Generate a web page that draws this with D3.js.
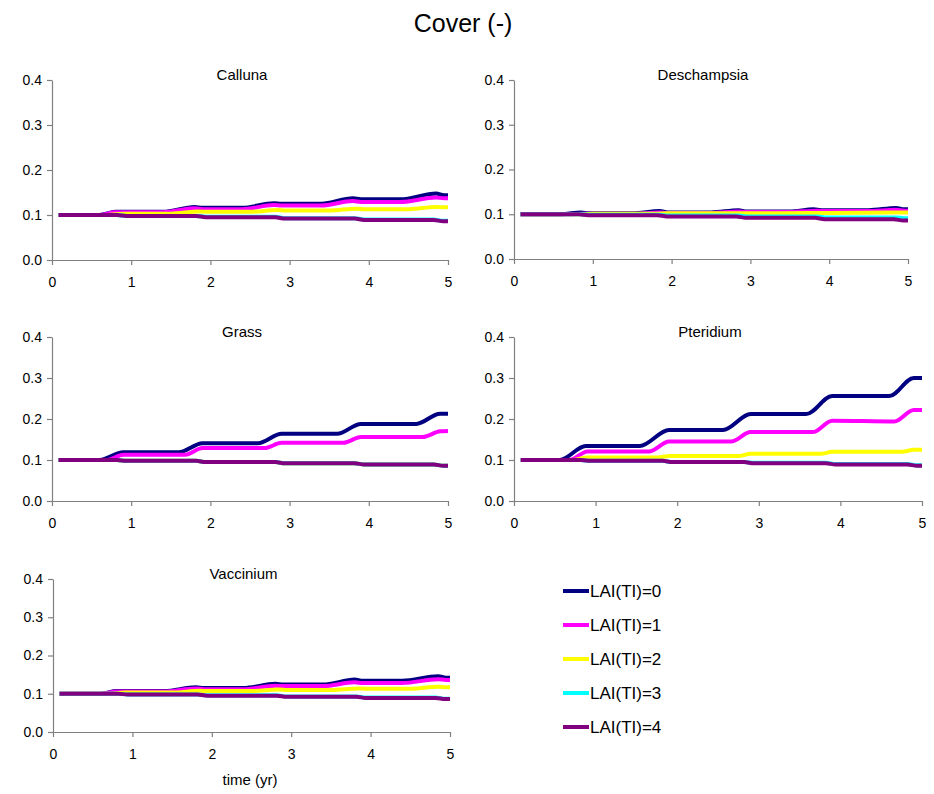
<!DOCTYPE html>
<html><head><meta charset="utf-8">
<script src="https://cdn.jsdelivr.net/npm/d3@7"></script>
<style>
body{margin:0;background:#fff}
text{font-family:"Liberation Sans",Arial,sans-serif;fill:#000}
</style>
</head><body>
<svg id="chart" width="934" height="794"></svg>
<script>
// ---- data ----
const seriesNames = ["LAI(TI)=0","LAI(TI)=1","LAI(TI)=2","LAI(TI)=3","LAI(TI)=4"];
const seriesColors = ["#000080","#FF00FF","#FFFF00","#00FFFF","#800080"];
const xTicks = [0,1,2,3,4,5];
const yTicks = [0.0,0.1,0.2,0.3,0.4];

const callunaL0 = [[0.083,0.1],[0.6,0.1],[0.8,0.107],[1.4,0.107],[1.8,0.118],[1.9,0.116],[2.4,0.116],[2.8,0.126],[2.9,0.125],[3.4,0.125],[3.8,0.137],[3.9,0.135],[4.4,0.135],[4.85,0.148],[4.95,0.144],[5,0.144]];
const callunaL1 = [[0.083,0.1],[0.6,0.1],[0.8,0.106],[1.4,0.106],[1.8,0.115],[1.9,0.113],[2.4,0.113],[2.8,0.122],[2.9,0.121],[3.4,0.121],[3.8,0.131],[3.9,0.129],[4.4,0.129],[4.85,0.139],[4.95,0.137],[5,0.137]];
const callunaL2 = [[0.083,0.1],[0.7,0.1],[0.9,0.103],[1.5,0.103],[1.85,0.108],[1.95,0.107],[2.5,0.107],[2.85,0.111],[2.95,0.110],[3.5,0.110],[3.85,0.114],[3.95,0.113],[4.5,0.113],[4.85,0.118],[4.95,0.117],[5,0.117]];
const callunaL3 = [[0.083,0.1],[0.82,0.1],[0.94,0.098],[1.82,0.098],[1.94,0.096],[2.82,0.096],[2.94,0.093],[3.82,0.093],[3.94,0.090],[4.82,0.090],[4.94,0.087],[5,0.087]];
const callunaL4 = [[0.083,0.1],[0.82,0.1],[0.94,0.098],[1.82,0.098],[1.94,0.095],[2.82,0.095],[2.94,0.092],[3.82,0.092],[3.94,0.089],[4.82,0.089],[4.94,0.086],[5,0.086]];

const deschampsiaL0 = [[0.083,0.1],[0.6,0.1],[0.85,0.104],[0.95,0.102],[1.5,0.102],[1.85,0.107],[1.95,0.104],[2.5,0.104],[2.85,0.109],[2.95,0.106],[3.5,0.106],[3.8,0.111],[3.9,0.109],[4.5,0.109],[4.85,0.114],[4.95,0.111],[5,0.111]];
const deschampsiaL1 = [[0.083,0.1],[0.7,0.1],[0.9,0.101],[1.5,0.101],[1.85,0.104],[1.95,0.103],[2.5,0.103],[2.85,0.106],[2.95,0.105],[3.5,0.105],[3.85,0.108],[3.95,0.107],[4.5,0.107],[4.85,0.110],[4.95,0.108],[5,0.108]];
const deschampsiaL2 = [[0.083,0.1],[0.9,0.1],[1.0,0.101],[1.8,0.101],[1.95,0.102],[2.8,0.102],[2.95,0.102],[3.8,0.103],[3.95,0.103],[4.8,0.104],[5,0.104]];
const deschampsiaL3 = [[0.083,0.1],[0.85,0.1],[0.95,0.099],[1.85,0.099],[1.95,0.097],[2.85,0.097],[2.95,0.095],[3.85,0.095],[3.95,0.093],[4.85,0.093],[4.95,0.091],[5,0.091]];
const deschampsiaL4 = [[0.083,0.1],[0.82,0.1],[0.94,0.098],[1.82,0.098],[1.94,0.095],[2.82,0.095],[2.94,0.092],[3.82,0.092],[3.94,0.089],[4.82,0.089],[4.94,0.086],[5,0.086]];

const grassL0 = [[0.083,0.1],[0.6,0.1],[0.9,0.119],[1.6,0.119],[1.9,0.141],[2.6,0.141],[2.9,0.164],[3.6,0.164],[3.9,0.188],[4.6,0.188],[4.9,0.213],[5,0.213]];
const grassL1 = [[0.083,0.1],[0.7,0.1],[0.9,0.113],[1.68,0.113],[1.9,0.129],[2.68,0.129],[2.9,0.142],[3.68,0.142],[3.9,0.156],[4.68,0.156],[4.9,0.170],[5,0.171]];
const grassL2 = [[0.083,0.1],[0.82,0.1],[0.94,0.098],[1.82,0.098],[1.94,0.095],[2.82,0.095],[2.94,0.092],[3.82,0.092],[3.94,0.089],[4.82,0.089],[4.94,0.086],[5,0.086]];
const grassL3 = [[0.083,0.1],[0.82,0.1],[0.94,0.098],[1.82,0.098],[1.94,0.095],[2.82,0.095],[2.94,0.092],[3.82,0.092],[3.94,0.089],[4.82,0.089],[4.94,0.086],[5,0.086]];
const grassL4 = [[0.083,0.1],[0.82,0.1],[0.94,0.098],[1.82,0.098],[1.94,0.095],[2.82,0.095],[2.94,0.092],[3.82,0.092],[3.94,0.089],[4.82,0.089],[4.94,0.086],[5,0.086]];

const pteridiumL0 = [[0.083,0.1],[0.56,0.1],[0.88,0.134],[1.54,0.134],[1.9,0.173],[2.56,0.173],[2.9,0.212],[3.58,0.212],[3.9,0.256],[4.6,0.256],[4.9,0.300],[5,0.300]];
const pteridiumL1 = [[0.083,0.1],[0.68,0.1],[0.9,0.121],[1.66,0.121],[1.9,0.145],[2.66,0.145],[2.9,0.168],[3.66,0.168],[3.9,0.196],[4.66,0.194],[4.9,0.222],[5,0.222]];
const pteridiumL2 = [[0.083,0.1],[0.72,0.1],[0.9,0.106],[1.76,0.106],[1.9,0.110],[2.76,0.110],[2.9,0.115],[3.76,0.115],[3.9,0.120],[4.76,0.120],[4.9,0.125],[5,0.125]];
const pteridiumL3 = [[0.083,0.1],[0.82,0.1],[0.94,0.098],[1.82,0.098],[1.94,0.095],[2.82,0.095],[2.94,0.093],[3.82,0.093],[3.94,0.090],[4.82,0.090],[4.94,0.087],[5,0.087]];
const pteridiumL4 = [[0.083,0.1],[0.82,0.1],[0.94,0.098],[1.82,0.098],[1.94,0.095],[2.82,0.095],[2.94,0.092],[3.82,0.092],[3.94,0.089],[4.82,0.089],[4.94,0.086],[5,0.086]];

const vacciniumL0 = [[0.083,0.1],[0.6,0.1],[0.8,0.107],[1.4,0.107],[1.8,0.117],[1.9,0.115],[2.4,0.115],[2.8,0.126],[2.9,0.124],[3.4,0.124],[3.8,0.137],[3.9,0.134],[4.4,0.134],[4.85,0.146],[4.95,0.142],[5,0.142]];
const vacciniumL1 = [[0.083,0.1],[0.6,0.1],[0.8,0.106],[1.4,0.106],[1.8,0.114],[1.9,0.112],[2.4,0.112],[2.8,0.121],[2.9,0.120],[3.4,0.120],[3.8,0.130],[3.9,0.128],[4.4,0.128],[4.85,0.138],[4.95,0.136],[5,0.136]];
const vacciniumL2 = [[0.083,0.1],[0.7,0.1],[0.9,0.103],[1.5,0.103],[1.85,0.108],[1.95,0.107],[2.5,0.107],[2.85,0.111],[2.95,0.110],[3.5,0.110],[3.85,0.114],[3.95,0.113],[4.5,0.113],[4.85,0.118],[4.95,0.117],[5,0.117]];
const vacciniumL3 = [[0.083,0.1],[0.82,0.1],[0.94,0.098],[1.82,0.098],[1.94,0.096],[2.82,0.096],[2.94,0.093],[3.82,0.093],[3.94,0.090],[4.82,0.090],[4.94,0.087],[5,0.087]];
const vacciniumL4 = [[0.083,0.1],[0.82,0.1],[0.94,0.098],[1.82,0.098],[1.94,0.095],[2.82,0.095],[2.94,0.092],[3.82,0.092],[3.94,0.089],[4.82,0.089],[4.94,0.086],[5,0.086]];

// ---- layout ----
const panels = [
  {title:"Calluna",     series:[callunaL0,callunaL1,callunaL2,callunaL3,callunaL4],               x0:52,  x1:448, y0:80,  y1:260},
  {title:"Deschampsia", series:[deschampsiaL0,deschampsiaL1,deschampsiaL2,deschampsiaL3,deschampsiaL4], x0:514, x1:908, y0:80,  y1:259},
  {title:"Grass",       series:[grassL0,grassL1,grassL2,grassL3,grassL4],                         x0:52,  x1:448, y0:337, y1:501},
  {title:"Pteridium",   series:[pteridiumL0,pteridiumL1,pteridiumL2,pteridiumL3,pteridiumL4],     x0:514, x1:922, y0:337, y1:501},
  {title:"Vaccinium",   series:[vacciniumL0,vacciniumL1,vacciniumL2,vacciniumL3,vacciniumL4],     x0:53,  x1:450, y0:579, y1:732}
];

const svg = d3.select("#chart");

svg.append("text").attr("x",463).attr("y",32).attr("text-anchor","middle")
  .style("font-size","25px").text("Cover (-)");

panels.forEach((p,pi) => {
  const x = d3.scaleLinear().domain([0,5]).range([p.x0,p.x1]);
  const y = d3.scaleLinear().domain([0,0.4]).range([p.y1,p.y0]);
  const g = svg.append("g");

  const yAxis = g.append("g").attr("transform",`translate(${p.x0},0)`)
    .call(d3.axisLeft(y).tickValues(yTicks).tickFormat(d3.format(".1f")).tickSize(5).tickSizeOuter(0).tickPadding(5));
  const xAxis = g.append("g").attr("transform",`translate(0,${p.y1})`)
    .call(d3.axisBottom(x).tickValues(xTicks).tickFormat(d3.format("d")).tickSize(5).tickSizeOuter(0).tickPadding(12));
  [yAxis,xAxis].forEach(a => {
    a.select(".domain").attr("stroke","#808080").attr("stroke-width",1.2);
    a.selectAll(".tick line").attr("stroke","#808080").attr("stroke-width",1.2);
    a.selectAll(".tick text").style("font-size","14px").attr("fill","#000").style("font-family","'Liberation Sans',Arial,sans-serif");
  });

  g.append("text").attr("x",(p.x0+p.x1)/2 - 8).attr("y",p.y0).attr("text-anchor","middle")
    .style("font-size","15px").text(p.title);

  const line = d3.line().x(d=>x(d[0])).y(d=>y(d[1])).curve(d3.curveMonotoneX);
  p.series.forEach((s,si) => {
    g.append("path").datum(s).attr("d",line).attr("fill","none")
      .attr("stroke",seriesColors[si]).attr("stroke-width",4)
      .attr("stroke-linejoin","round");
  });
});

svg.append("text").attr("x",250).attr("y",785).attr("text-anchor","middle")
  .style("font-size","15px").text("time (yr)");

// legend
const legY = d3.scalePoint().domain(seriesNames).range([591,727]);
const leg = svg.append("g");
seriesNames.forEach((n,i) => {
  leg.append("line").attr("x1",563).attr("x2",589).attr("y1",legY(n)).attr("y2",legY(n))
    .attr("stroke",seriesColors[i]).attr("stroke-width",4);
  leg.append("text").attr("x",590).attr("y",legY(n)).attr("dy","0.36em")
    .style("font-size","17px").text(n);
});
</script>
</body></html>
